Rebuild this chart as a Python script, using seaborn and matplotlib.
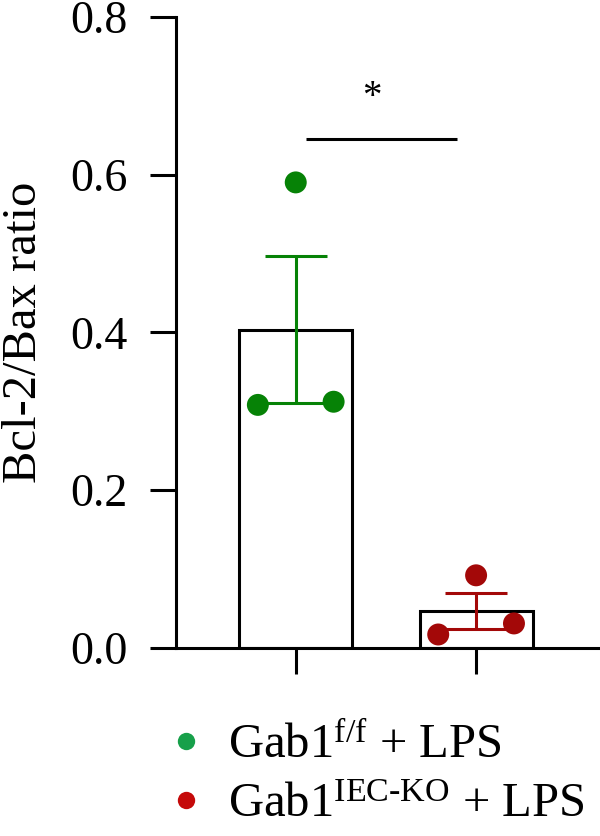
import numpy as np
import pandas as pd
import matplotlib
matplotlib.use("Agg")
import matplotlib.pyplot as plt
from matplotlib.lines import Line2D
import seaborn as sns

# ---- data ----
groups = ["Gab1 f/f + LPS", "Gab1 IEC-KO + LPS"]
ctrl_values = [0.590, 0.308, 0.312]
ko_values = [0.092, 0.017, 0.031]
y_ticks = [0.0, 0.2, 0.4, 0.6, 0.8]
y_label = "Bcl-2/Bax ratio"
legend_labels = [r"Gab1$^{\mathrm{f/f}}$ + LPS", r"Gab1$^{\text{IEC-KO}}$ + LPS"]
sig_label = "*"
sig_height = 0.645

point_colors = ["#068206", "#a30808"]
legend_colors = ["#17a04a", "#c50a0a"]

sns.set_theme(style="ticks")
plt.rcParams["font.family"] = ["Liberation Serif", "DejaVu Serif"]
plt.rcParams["mathtext.fontset"] = "custom"
plt.rcParams["mathtext.rm"] = "Liberation Serif"
plt.rcParams["mathtext.it"] = "Liberation Serif:italic"
plt.rcParams["mathtext.bf"] = "Liberation Serif:bold"
plt.rcParams["text.color"] = "black"
plt.rcParams["axes.labelcolor"] = "black"

df = pd.DataFrame({
    "group": [groups[0]] * len(ctrl_values) + [groups[1]] * len(ko_values),
    "value": ctrl_values + ko_values,
})

fig = plt.figure(figsize=(6.0, 8.36), dpi=100)
ax = fig.add_axes([0.293, 0.225, 0.707, 0.755])

lw = 2.2
sns.barplot(data=df, x="group", y="value", order=groups, errorbar=None,
            color="white", edgecolor="black", linewidth=lw, width=0.626,
            ax=ax, zorder=1)

# error bars (mean ± SEM) and points
spread = [0.0, -0.21, 0.21]
for i, g in enumerate(groups):
    vals = df.loc[df["group"] == g, "value"].to_numpy()
    m = vals.mean()
    sem = vals.std(ddof=1) / np.sqrt(len(vals))
    ax.errorbar([i], [m], yerr=[[sem], [sem]], color=point_colors[i],
                elinewidth=lw, capsize=22, capthick=lw, zorder=3)
    xs = i + np.array(spread[:len(vals)])
    ax.scatter(xs, vals, s=250, color=point_colors[i], edgecolors="none", zorder=4)

# significance line
ax.plot([0.055, 0.895], [sig_height, sig_height], color="black", lw=lw,
        solid_capstyle="butt", zorder=3)
ax.text(0.42, sig_height + 0.052, sig_label, ha="center", va="center",
        fontsize=28, color="black")

ax.set_ylim(0, 0.8)
ax.set_xlim(-0.665, 1.687)
ax.set_yticks(y_ticks)
ax.set_yticklabels([f"{t:.1f}" for t in y_ticks])
ax.set_xticks([0, 1])
ax.set_xticklabels(["", ""])
ax.set_xlabel("")
ax.set_ylabel(y_label, fontsize=35, labelpad=18, color="black")
ax.tick_params(axis="both", length=18.5, width=lw, labelsize=33, color="black",
               labelcolor="black", pad=16)
for side in ["left", "bottom"]:
    ax.spines[side].set_linewidth(lw)
    ax.spines[side].set_color("black")
sns.despine(ax=ax)

handles = [Line2D([0], [0], marker="o", linestyle="none", markersize=12.5,
                  markerfacecolor=c, markeredgecolor="none") for c in legend_colors]
fig.legend(handles, legend_labels, loc="upper left",
           bbox_to_anchor=(0.268, 0.134), frameon=False, fontsize=35,
           handletextpad=0.36, labelspacing=0.3, borderaxespad=0,
           borderpad=0, handlelength=1.03)

fig.savefig("out.png", dpi=100)
